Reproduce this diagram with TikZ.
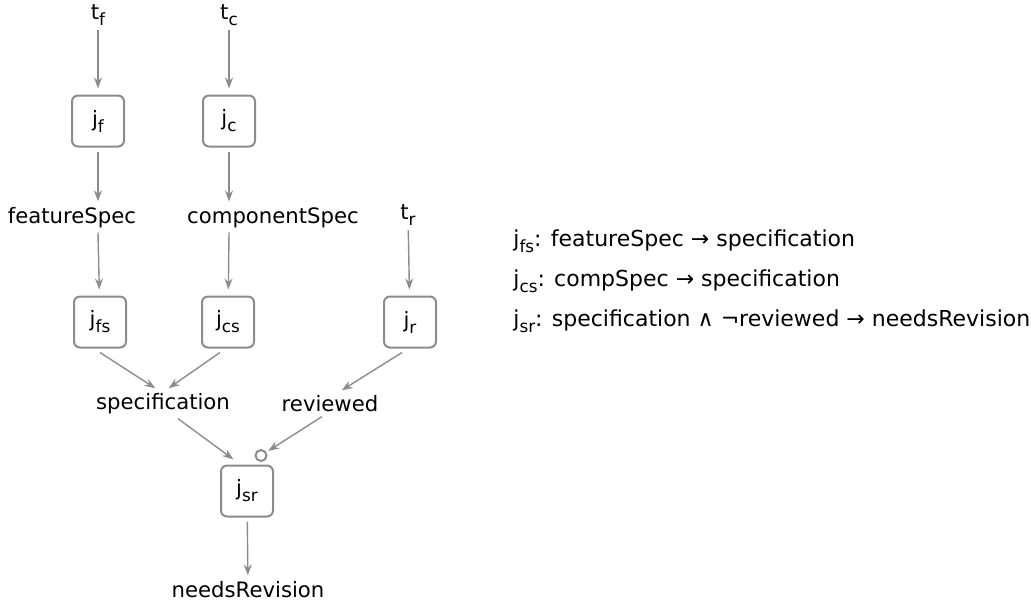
\documentclass[tikz,border=0pt]{standalone}
\usepackage{fontspec}
\setmainfont{DejaVu Sans}
\usetikzlibrary{arrows.meta}
\definecolor{ruleGray}{HTML}{8C8C8C}
\newcommand{\lowsub}[1]{\raisebox{-0.28em}{\fontsize{8.4}{9}\selectfont #1}}
\newcommand{\jsub}[1]{j\lowsub{#1}}
\newcommand{\tsub}[1]{t\lowsub{#1}}

\begin{document}
\begin{tikzpicture}[
  x=5pt, y=-5pt, font=\fontsize{10.6}{12}\selectfont,
  rule/.style ={draw=ruleGray, line width=1pt, rounded corners=3pt, minimum width=26pt,
                minimum height=25.5pt, inner sep=0pt, outer sep=2.5pt},
  fact/.style ={inner sep=2pt},
  flow/.style ={ruleGray, line width=0.7pt, -{Stealth[length=5.5pt,width=4pt]}, shorten >=1pt},
  neg/.style  ={circle, draw=ruleGray, line width=1pt, minimum size=5.5pt, inner sep=0pt, fill=white},
  legend/.style={anchor=base west, inner sep=0pt, font=\fontsize{11}{13}\selectfont}]
  \useasboundingbox (0,0) rectangle (103.1,60.6);
  % inputs
  \node[fact] (tf) at (9.8,1.5)  {\tsub{f}};
  \node[fact] (tc) at (22.9,1.5) {\tsub{c}};
  \node[fact] (tr) at (40.8,21.5) {\tsub{r}};
  % rules and facts
  \node[rule] (jf)  at (9.8,12.1)  {\jsub{f}};
  \node[rule] (jc)  at (22.9,12.1) {\jsub{c}};
  \node[fact] (fspec) at (7.2,21.8)  {featureSpec};
  \node[fact] (cspec) at (27.3,21.8) {componentSpec};
  \node[rule] (jfs) at (10.0,32.2) {\jsub{fs}};
  \node[rule] (jcs) at (22.8,32.2) {\jsub{cs}};
  \node[rule] (jr)  at (41.0,32.2) {\jsub{r}};
  \node[fact] (spec) at (16.3,40.4) {specification};
  \node[fact] (rev)  at (33.0,40.4) {reviewed};
  \node[rule] (jsr) at (24.7,49.1) {\jsub{sr}};
  \node[fact] (need) at (24.8,59.0) {needsRevision};
  \node[neg] (nrev) at ([shift={(-8.5pt,2.5pt)}]jsr.north east) {};
  % connectors
  \draw[flow] (tf) -- (jf);
  \draw[flow] (tc) -- (jc);
  \draw[flow] (tr) -- (jr);
  \draw[flow] (jf) -- (jf |- fspec.north);
  \draw[flow] (jc) -- (jc |- cspec.north);
  \draw[flow] (jf |- fspec.south) -- (jfs);
  \draw[flow] (jc |- cspec.south) -- (jcs);
  \draw[flow] (jfs.south) -- ([xshift=-3pt]spec.north);
  \draw[flow] ([xshift=-4pt]jcs.south) -- ([xshift=2pt]spec.north);
  \draw[flow] ([xshift=-4pt]jr.south) -- ([xshift=5pt]rev.north);
  \draw[flow] ([xshift=7.5pt]spec.south) -- ([xshift=-6pt]jsr.north);
  \draw[flow] ([xshift=-4pt]rev.south) -- (nrev);
  \draw[flow] (jsr) -- (need);
  % legend
  \node[legend] (l1) at (51.3,24.6) {\jsub{fs}: featureSpec → specification};
  \node[legend] (l2) at (51.3,28.6) {\jsub{cs}: compSpec → specification};
  \node[legend] (l3) at (51.3,32.6) {\jsub{sr}: specification ∧ ¬reviewed → needsRevision};
\end{tikzpicture}
\end{document}
